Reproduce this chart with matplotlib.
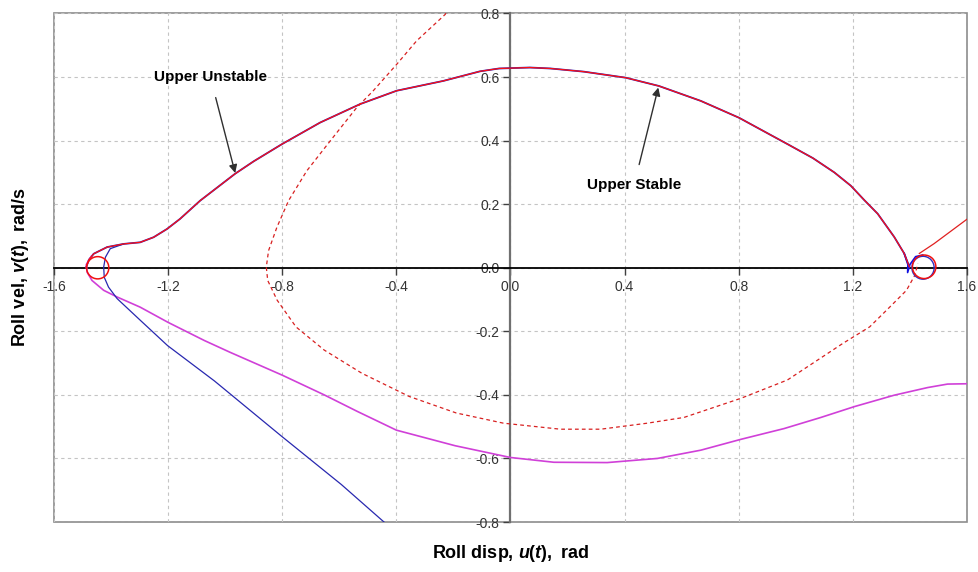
import matplotlib
matplotlib.use("Agg")
import matplotlib.pyplot as plt
from matplotlib.patches import Ellipse, Rectangle

plt.rcParams['font.family'] = ['Liberation Sans', 'DejaVu Sans']
plt.rcParams['mathtext.fontset'] = 'custom'
plt.rcParams['mathtext.rm'] = 'Liberation Sans:bold'
plt.rcParams['mathtext.it'] = 'Liberation Sans:italic:bold'
plt.rcParams['mathtext.bf'] = 'Liberation Sans:bold'

# ── Data ───────────────────────────────────────────────────────────────────
# upper separatrix (red solid, blue lies underneath)
upper_u = [-1.488, -1.478, -1.461, -1.414, -1.356, -1.298, -1.251, -1.204,
           -1.158, -1.088, -1.020, -0.965, -0.900, -0.801, -0.667, -0.527,
           -0.399, -0.235, -0.107, -0.040, 0.068, 0.14, 0.257, 0.404, 0.520,
           0.667, 0.801, 0.971, 1.060, 1.135, 1.193, 1.240, 1.287, 1.345,
           1.380, 1.398]
upper_v = [0.0, 0.025, 0.044, 0.065, 0.075, 0.080, 0.096, 0.122,
           0.154, 0.211, 0.258, 0.296, 0.335, 0.389, 0.457, 0.515,
           0.557, 0.588, 0.618, 0.627, 0.630, 0.627, 0.617, 0.598, 0.572,
           0.525, 0.472, 0.389, 0.345, 0.300, 0.258, 0.213, 0.170, 0.097,
           0.045, 0.003]

# red solid branch leaving the right loop
exit_u = [1.433, 1.485, 1.602]
exit_v = [0.045, 0.076, 0.154]

# red dashed manifold
dash_u = [-0.215, -0.229, -0.329, -0.399, -0.481, -0.539, -0.632, -0.714,
          -0.778, -0.819, -0.848, -0.856, -0.851, -0.818, -0.752, -0.653,
          -0.521, -0.355, -0.190, -0.025, 0.175, 0.316, 0.480, 0.608,
          0.807, 0.971, 1.165, 1.259, 1.329, 1.388, 1.417, 1.428]
dash_v = [0.82, 0.797, 0.714, 0.640, 0.557, 0.504, 0.399, 0.305,
          0.211, 0.127, 0.054, 0.002, -0.040, -0.102, -0.186, -0.259,
          -0.332, -0.405, -0.457, -0.489, -0.508, -0.508, -0.489, -0.471,
          -0.411, -0.353, -0.238, -0.186, -0.124, -0.071, -0.024, 0.013]

# magenta trajectory
mag_u = [-1.47, -1.487, -1.484, -1.467, -1.426, -1.379, -1.298, -1.200,
         -1.073, -0.983, -0.800, -0.653, -0.537, -0.400, -0.194, 0.0,
         0.152, 0.339, 0.515, 0.667, 0.807, 0.959, 1.088, 1.205, 1.345,
         1.462, 1.532, 1.6]
mag_v = [0.035, 0.01, -0.014, -0.040, -0.071, -0.092, -0.124, -0.172,
         -0.229, -0.266, -0.338, -0.400, -0.452, -0.511, -0.560, -0.597,
         -0.612, -0.613, -0.600, -0.574, -0.540, -0.506, -0.471, -0.437,
         -0.401, -0.377, -0.366, -0.365]

# blue trajectory leaving the left loop
blue_u = [-1.356, -1.403, -1.420, -1.426, -1.424, -1.409, -1.379, -1.298,
          -1.202, -1.038, -0.804, -0.593, -0.446, -0.43]
blue_v = [0.075, 0.060, 0.033, 0.002, -0.030, -0.061, -0.097, -0.165,
          -0.245, -0.356, -0.529, -0.682, -0.798, -0.81]

# blue hook at the right saddle
hook_u = [1.380, 1.393, 1.392, 1.400, 1.420, 1.445]
hook_v = [0.045, 0.010, -0.015, 0.010, 0.035, 0.040]

# small loops round the saddles: (centre u, centre v, width, height)
loops_red = [(-1.447, 0.0, 0.078, 0.070), (1.450, 0.003, 0.082, 0.074)]
loops_blue = [(1.446, 0.0, 0.078, 0.072)]

x_ticks = [-1.6, -1.2, -0.8, -0.4, 0.0, 0.4, 0.8, 1.2, 1.6]
y_ticks = [-0.8, -0.6, -0.4, -0.2, 0.0, 0.2, 0.4, 0.6, 0.8]

# ── Figure ─────────────────────────────────────────────────────────────────
fig = plt.figure(figsize=(9.79, 5.72), dpi=100)
ax = fig.add_axes([0.0552, 0.0874, 0.9325, 0.889])
ax.set_xlim(-1.6, 1.6)
ax.set_ylim(-0.8, 0.8)
ax.set_xticks(x_ticks)
ax.set_yticks(y_ticks)
ax.xaxis.set_major_formatter(matplotlib.ticker.FormatStrFormatter("%.1f"))
ax.yaxis.set_major_formatter(matplotlib.ticker.FormatStrFormatter("%.1f"))

ax.grid(True, color="#C4C4C4", linestyle=(0, (3, 3)), linewidth=0.8)
ax.set_axisbelow(True)

for s in ("top", "right"):
    ax.spines[s].set_visible(False)
ax.spines["left"].set_position("zero")
ax.spines["bottom"].set_position("zero")
ax.spines["left"].set_color("#707070")
ax.spines["left"].set_linewidth(1.6)
ax.spines["bottom"].set_color("black")
ax.spines["bottom"].set_linewidth(1.3)
ax.add_patch(Rectangle((0, 0), 1, 1, transform=ax.transAxes, fill=False,
                       edgecolor="#8C8C8C", linewidth=1.2, clip_on=False,
                       zorder=0.5))
ax.tick_params(axis="both", direction="out", length=5, width=1,
               color="#404040", labelsize=10, labelcolor="#333333")
ax.tick_params(axis="x", pad=4)
ax.tick_params(axis="y", pad=3)

# curves
ax.plot(upper_u, upper_v, color="#2020C0", lw=1.3, zorder=3)
ax.plot(upper_u, upper_v, color="#FF1010", lw=0.9, zorder=4)
ax.plot(exit_u, exit_v, color="#E02020", lw=0.9, zorder=4)
ax.plot(dash_u, dash_v, color="#D82020", lw=0.9, linestyle=(0, (3, 2.5)),
        zorder=3)
ax.plot(mag_u, mag_v, color="#D040D8", lw=1.2, zorder=3)
ax.plot(blue_u, blue_v, color="#2828B0", lw=0.9, zorder=3)
ax.plot(hook_u, hook_v, color="#1010E0", lw=1.2, zorder=3)
for cu, cv, w, h in loops_blue:
    ax.add_patch(Ellipse((cu, cv), w, h, fill=False, edgecolor="#3030C0",
                         lw=1.0, zorder=3))
for cu, cv, w, h in loops_red:
    ax.add_patch(Ellipse((cu, cv), w, h, fill=False, edgecolor="#F01010",
                         lw=1.1, zorder=4))

# annotations
ax.annotate("Upper Unstable", xy=(-0.965, 0.298), xytext=(-1.052, 0.60),
            ha="center", va="center", fontsize=11, fontweight="bold",
            arrowprops=dict(arrowstyle="-|>", color="#303030", lw=1.0,
                            mutation_scale=12, shrinkA=8, shrinkB=0),
            zorder=6)
ax.annotate("Upper Stable", xy=(0.518, 0.567), xytext=(0.433, 0.26),
            ha="center", va="center", fontsize=11, fontweight="bold",
            arrowprops=dict(arrowstyle="-|>", color="#303030", lw=1.0,
                            mutation_scale=12, shrinkA=8, shrinkB=0),
            zorder=6)

fig.text(0.5215, 0.033, r"Roll disp, $u(t),$ rad", ha="center", va="center",
         fontsize=13, fontweight="bold")
fig.text(0.021, 0.5325, r"Roll vel, $v(t),$ rad/s", ha="center",
         va="center", rotation=90, fontsize=13, fontweight="bold")

fig.savefig("out.png", dpi=100)
